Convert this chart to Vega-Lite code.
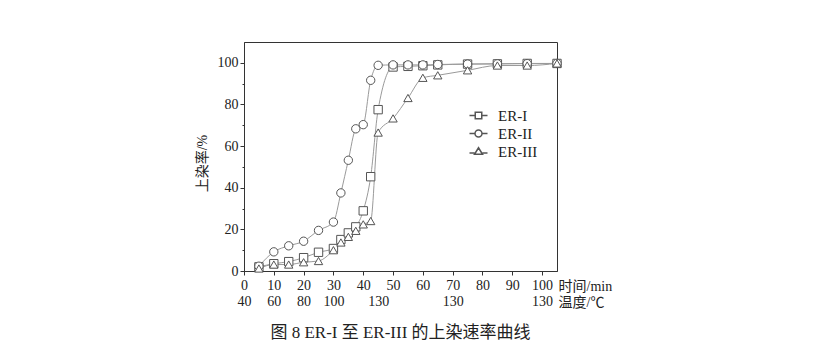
{
  "$schema": "https://vega.github.io/schema/vega-lite/v6.json",
  "width": 313,
  "height": 229,
  "autosize": {"type": "none"},
  "padding": {"left": 244, "top": 42, "right": 271, "bottom": 74},
  "background": "white",
  "config": {
    "view": {"stroke": "#333", "strokeWidth": 1},
    "font": "Liberation Serif, Noto Sans CJK SC",
    "axis": {
      "grid": false,
      "domainColor": "#333",
      "tickColor": "#333",
      "labelColor": "#222",
      "titleColor": "#222",
      "labelFont": "Liberation Serif, Noto Sans CJK SC",
      "titleFont": "Liberation Serif, Noto Sans CJK SC",
      "labelFontSize": 14,
      "titleFontSize": 14,
      "titleFontWeight": "normal"
    }
  },
  "title": {
    "text": "图 8 ER-I 至 ER-III 的上染速率曲线",
    "orient": "bottom",
    "anchor": "middle",
    "frame": "group",
    "fontSize": 17,
    "fontWeight": "normal",
    "font": "Liberation Serif, Noto Sans CJK SC",
    "color": "#222",
    "offset": 16
  },
  "data": {
    "values": [
      {"s": "ER-I", "t": 5, "v": 2.0},
      {"s": "ER-I", "t": 10, "v": 3.5},
      {"s": "ER-I", "t": 15, "v": 4.5},
      {"s": "ER-I", "t": 20, "v": 6.4},
      {"s": "ER-I", "t": 25, "v": 9.0},
      {"s": "ER-I", "t": 30, "v": 10.8},
      {"s": "ER-I", "t": 32.5, "v": 15.1},
      {"s": "ER-I", "t": 35, "v": 18.3},
      {"s": "ER-I", "t": 37.5, "v": 21.2},
      {"s": "ER-I", "t": 40, "v": 28.9},
      {"s": "ER-I", "t": 42.5, "v": 45.3},
      {"s": "ER-I", "t": 45, "v": 77.5},
      {"s": "ER-I", "t": 50, "v": 98.0},
      {"s": "ER-I", "t": 55, "v": 98.3},
      {"s": "ER-I", "t": 60, "v": 98.6},
      {"s": "ER-I", "t": 65, "v": 99.0},
      {"s": "ER-I", "t": 75, "v": 99.4},
      {"s": "ER-I", "t": 85, "v": 99.5},
      {"s": "ER-I", "t": 95, "v": 99.7},
      {"s": "ER-I", "t": 105, "v": 99.7},
      {"s": "ER-II", "t": 5, "v": 2.3},
      {"s": "ER-II", "t": 10, "v": 9.2},
      {"s": "ER-II", "t": 15, "v": 12.1},
      {"s": "ER-II", "t": 20, "v": 14.3},
      {"s": "ER-II", "t": 25, "v": 19.5},
      {"s": "ER-II", "t": 30, "v": 23.5},
      {"s": "ER-II", "t": 32.5, "v": 37.5},
      {"s": "ER-II", "t": 35, "v": 53.2},
      {"s": "ER-II", "t": 37.5, "v": 68.3},
      {"s": "ER-II", "t": 40, "v": 70.3},
      {"s": "ER-II", "t": 42.5, "v": 91.6},
      {"s": "ER-II", "t": 45, "v": 98.8},
      {"s": "ER-II", "t": 50, "v": 99.0},
      {"s": "ER-II", "t": 55, "v": 99.0},
      {"s": "ER-II", "t": 60, "v": 99.0},
      {"s": "ER-II", "t": 65, "v": 99.2},
      {"s": "ER-II", "t": 75, "v": 99.4},
      {"s": "ER-II", "t": 85, "v": 99.5},
      {"s": "ER-II", "t": 95, "v": 99.6},
      {"s": "ER-II", "t": 105, "v": 99.7},
      {"s": "ER-III", "t": 5, "v": 1.2},
      {"s": "ER-III", "t": 10, "v": 3.1},
      {"s": "ER-III", "t": 15, "v": 3.1},
      {"s": "ER-III", "t": 20, "v": 4.2},
      {"s": "ER-III", "t": 25, "v": 4.8},
      {"s": "ER-III", "t": 30, "v": 10.0},
      {"s": "ER-III", "t": 32.5, "v": 13.7},
      {"s": "ER-III", "t": 35, "v": 16.4},
      {"s": "ER-III", "t": 37.5, "v": 19.3},
      {"s": "ER-III", "t": 40, "v": 22.4},
      {"s": "ER-III", "t": 42.5, "v": 24.0},
      {"s": "ER-III", "t": 45, "v": 66.5},
      {"s": "ER-III", "t": 50, "v": 73.3},
      {"s": "ER-III", "t": 55, "v": 83.1},
      {"s": "ER-III", "t": 60, "v": 92.8},
      {"s": "ER-III", "t": 65, "v": 94.0},
      {"s": "ER-III", "t": 75, "v": 96.4},
      {"s": "ER-III", "t": 85, "v": 98.7},
      {"s": "ER-III", "t": 95, "v": 98.7},
      {"s": "ER-III", "t": 105, "v": 99.7}
    ]
  },
  "layer": [
    {
      "mark": {"type": "line", "interpolate": "monotone", "stroke": "#9a9a9a", "strokeWidth": 1},
      "encoding": {
        "x": {
          "field": "t", "type": "quantitative",
          "scale": {"domain": [0, 105], "nice": false, "zero": false},
          "axis": {
            "orient": "bottom",
            "values": [0, 10, 20, 30, 40, 50, 60, 70, 80, 90, 100],
            "tickSize": 4,
            "labelPadding": 3,
            "labelFlush": false,
            "labelOverlap": false,
            "title": "时间/min",
            "titleX": 314,
            "titleY": 15,
            "titleAlign": "left",
            "titleBaseline": "middle",
            "titleAngle": 0
          }
        },
        "y": {
          "field": "v", "type": "quantitative",
          "scale": {"domain": [0, 110], "nice": false},
          "axis": {
            "orient": "left",
            "values": [0, 20, 40, 60, 80, 100],
            "tickSize": 4,
            "labelPadding": 2,
            "title": "上染率/%",
            "titlePadding": 8,
            "titleY": 121
          }
        },
        "detail": {"field": "s", "type": "nominal"}
      }
    },
    {
      "mark": {"type": "point", "filled": true, "fill": "white", "stroke": "#555", "strokeWidth": 1, "size": 70, "opacity": 1},
      "encoding": {
        "x": {
          "field": "t", "type": "quantitative",
          "scale": {"domain": [0, 105], "nice": false, "zero": false},
          "axis": {
            "orient": "bottom",
            "offset": 20,
            "values": [0, 10, 20, 30, 45, 70, 100],
            "labelExpr": "({'0':'40','10':'60','20':'80','30':'100','45':'130','70':'130','100':'130'})[datum.value]",
            "ticks": false,
            "domain": false,
            "tickSize": 4,
            "labelPadding": 3,
            "labelFlush": false,
            "labelOverlap": false,
            "title": "温度/℃",
            "titleX": 314,
            "titleY": 11,
            "titleAlign": "left",
            "titleBaseline": "middle",
            "titleAngle": 0
          }
        },
        "y": {
          "field": "v", "type": "quantitative",
          "scale": {"domain": [0, 110], "nice": false},
          "axis": {
            "orient": "left",
            "values": [10, 30, 50, 70, 90],
            "tickSize": 2,
            "labels": false,
            "domain": false,
            "title": null
          }
        },
        "shape": {
          "field": "s", "type": "nominal",
          "scale": {"domain": ["ER-I", "ER-II", "ER-III"], "range": ["square", "circle", "triangle-up"]},
          "legend": null
        }
      }
    },
    {
      "transform": [{"filter": "false"}],
      "mark": {"type": "point", "filled": true, "fill": "white", "stroke": "#555", "strokeWidth": 1, "size": 70, "opacity": 1},
      "encoding": {
        "x": {
          "field": "t", "type": "quantitative",
          "scale": {"domain": [0, 105], "nice": false, "zero": false},
          "axis": null
        },
        "y": {
          "field": "v", "type": "quantitative",
          "scale": {"domain": [0, 110], "nice": false},
          "axis": null
        },
        "shape": {
          "field": "s", "type": "nominal",
          "scale": {
            "domain": ["ER-I", "ER-II", "ER-III"],
            "range": [
              "M-1.8,0H-0.65M0.65,0H1.8M-0.65,-0.65H0.65V0.65H-0.65Z",
              "M-1.8,0H-0.7M0.7,0H1.8M-0.7,0A0.7,0.7 0 1,1 0.7,0A0.7,0.7 0 1,1 -0.7,0Z",
              "M-1.8,0.3H-0.8M0.8,0.3H1.8M0,-0.75L0.8,0.55H-0.8Z"
            ]
          },
          "legend": {
            "title": null,
            "orient": "none",
            "legendX": 227,
            "legendY": 66,
            "padding": 0,
            "labelFont": "Liberation Serif",
            "labelFontSize": 15,
            "labelColor": "#222",
            "labelOffset": 12,
            "rowPadding": 2
          }
        }
      }
    }
  ],
  "resolve": {"scale": {"x": "independent", "y": "independent", "shape": "independent"}}
}
